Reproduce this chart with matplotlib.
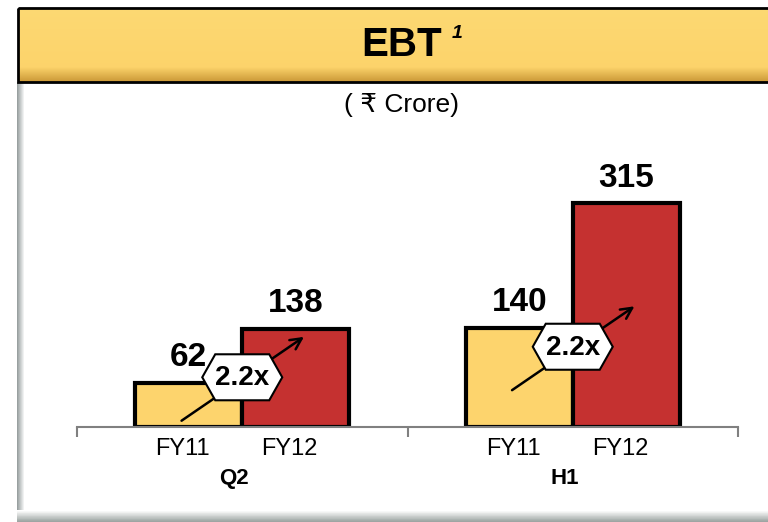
import matplotlib
matplotlib.use("Agg")
import matplotlib.pyplot as plt
import numpy as np
from matplotlib.patches import Polygon, Rectangle
from matplotlib.transforms import ScaledTranslation

plt.rcParams['font.family'] = ['Liberation Sans', 'DejaVu Sans']

# data
groups = ['Q2', 'H1']
years = ['FY11', 'FY12']
fy11 = [62, 140]
fy12 = [138, 315]
growth = ['2.2x', '2.2x']
badge_y = [70, 113]          # where the growth badge sits (data units)

gold = '#FDD46D'
red = '#C53130'

fig = plt.figure(figsize=(7.68, 5.22), dpi=100)

# background panel in pixel coords
bg = fig.add_axes([0, 0, 1, 1])
bg.set_xlim(0, 768)
bg.set_ylim(522, 0)
bg.axis('off')

# left shadow of the panel
grad = np.linspace(0, 1, 8)
left = np.array([[0.60, 0.63, 0.63]]) * (1 - grad[:, None]) + grad[:, None]
bg.imshow(left[None, :, :], extent=(17, 25, 518, 82), aspect='auto', zorder=0)
# bottom shadow
bot = np.array([[0.62, 0.65, 0.64]]) * grad[:, None] + (1 - grad[:, None])
bg.imshow(bot[:, None, :], extent=(17, 768, 522, 510), aspect='auto', zorder=0)

# title banner with a soft vertical gradient
rows = 74
t = np.linspace(0, 1, rows)
top_c = np.array([0.99, 0.85, 0.45])
mid_c = np.array([0.99, 0.83, 0.42])
low_c = np.array([0.80, 0.60, 0.22])
band = np.where(t[:, None] < 0.8,
                top_c + (mid_c - top_c) * (t[:, None] / 0.8),
                mid_c + (low_c - mid_c) * ((t[:, None] - 0.8) / 0.2))
bg.imshow(band[:, None, :], extent=(18, 770, 82, 8), aspect='auto', zorder=1)
bg.add_patch(Rectangle((18, 8), 760, 74, fill=False, ec='black', lw=2, zorder=2))

bg.text(402, 45, 'EBT', ha='center', va='center', fontsize=29,
        fontweight='bold', zorder=3)
bg.text(457, 33, '1', ha='center', va='center', fontsize=14,
        fontweight='bold', fontstyle='italic', zorder=3)
bg.text(401, 105, '( \u20b9 Crore)', ha='center', va='center', fontsize=19,
        zorder=3)

# main chart
ax = fig.add_axes([77 / 768, 95 / 522, 661 / 768, 277 / 522])
ax.patch.set_alpha(0)
ax.set_xlim(-0.5, 1.5)
ax.set_ylim(0, 390)

w = 0.324
x = np.arange(len(groups))
ax.bar(x - w / 2, fy11, width=w, color=gold, edgecolor='black', lw=3, zorder=2)
ax.bar(x + w / 2, fy12, width=w, color=red, edgecolor='black', lw=3, zorder=2)

for xs, vals in [(x - w / 2, fy11), (x + w / 2, fy12)]:
    for xi, v in zip(xs, vals):
        ax.annotate(str(v), xy=(xi, v), xytext=(0, 12), textcoords='offset points',
                    ha='center', va='baseline', fontsize=24, fontweight='bold')

# growth badges (hexagon + arrow), sized in inches around the anchor
hex_pts = np.array([[-40, 0], [-27, 23], [27, 23], [40, 0], [27, -23], [-27, -23]]) / 100
for xi, yi, g in zip(x, badge_y, growth):
    tr = fig.dpi_scale_trans + ScaledTranslation(xi, yi, ax.transData)
    ax.annotate('', xy=(0.64, 0.42), xycoords=tr, xytext=(-0.63, -0.45), textcoords=tr,
                arrowprops=dict(arrowstyle='->,head_length=0.8,head_width=0.4',
                                color='black', lw=1.8), zorder=3)
    ax.add_patch(Polygon(hex_pts, closed=True, transform=tr, fc='white',
                         ec='black', lw=1.5, zorder=4))
    ax.text(0, -0.01, g, transform=tr, ha='center', va='center', fontsize=20,
            fontweight='bold', zorder=5)

# axis styling
for s in ['top', 'right', 'left']:
    ax.spines[s].set_visible(False)
ax.spines['bottom'].set_color('#808080')
ax.spines['bottom'].set_linewidth(1.5)
ax.set_yticks([])
ax.set_xticks(np.concatenate([x - w / 2, x + w / 2]))
ax.set_xticklabels([years[0]] * len(groups) + [years[1]] * len(groups), fontsize=17)
ax.tick_params(axis='x', which='major', length=0, pad=8)
ax.set_xticks([-0.5, 0.5, 1.5], minor=True)
ax.tick_params(axis='x', which='minor', length=7, width=1.5, color='#808080')
shift = ScaledTranslation(-6 / 100, 0, fig.dpi_scale_trans)
for lbl in ax.get_xticklabels():
    lbl.set_transform(lbl.get_transform() + shift)

for xi, g in zip(x, groups):
    ax.annotate(g, xy=(xi, 0), xycoords=('data', 'axes fraction'), xytext=(-6, -37),
                textcoords='offset points', ha='center', va='center',
                fontsize=16, fontweight='bold')

fig.savefig('out.png', dpi=100)
